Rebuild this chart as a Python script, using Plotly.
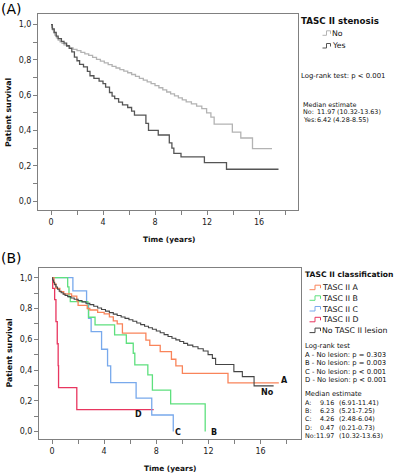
import plotly.graph_objects as go

W, H = 400, 475

# ---------------- DATA ----------------
# Panel A: TASC II stenosis (No / Yes) - Kaplan-Meier step points (time, survival)
no_t = [0, 0.05, 0.12, 0.2, 0.3, 0.42, 0.55, 0.7, 0.85, 1.0, 1.2, 1.45, 1.7, 2.0, 2.3, 2.6,
        2.9, 3.2, 3.5, 3.8, 4.1, 4.4, 4.7, 5.0, 5.3, 5.6, 5.9, 6.2, 6.5, 6.8, 7.1, 7.4,
        7.7, 8.0, 8.3, 8.6, 8.9, 9.2, 9.5, 9.8, 10.1, 10.4, 10.8, 11.2, 11.6, 11.97,
        12.3, 12.55, 13.95, 14.6, 15.5]
no_s = [1.0, 0.985, 0.97, 0.955, 0.94, 0.925, 0.912, 0.902, 0.893, 0.885, 0.877, 0.868,
        0.86, 0.852, 0.843, 0.834, 0.825, 0.814, 0.803, 0.793, 0.783, 0.773, 0.763, 0.754,
        0.745, 0.736, 0.727, 0.717, 0.706, 0.695, 0.685, 0.675, 0.665, 0.654, 0.642, 0.63,
        0.618, 0.607, 0.596, 0.585, 0.573, 0.562, 0.551, 0.538, 0.524, 0.5, 0.476, 0.436,
        0.39, 0.357, 0.297]
no_end = 17.0

yes_t = [0, 0.1, 0.25, 0.4, 0.55, 0.8, 1.0, 1.2, 1.4, 1.6, 1.8, 2.0, 2.2, 2.5, 2.8, 3.0,
         3.3, 3.7, 4.0, 4.2, 4.5, 4.7, 4.9, 5.2, 5.5, 5.9, 6.2, 6.42, 7.3, 7.5, 8.25, 9.1,
         9.3, 9.45, 10.0, 11.8, 13.5]
yes_s = [1.0, 0.975, 0.955, 0.935, 0.92, 0.905, 0.895, 0.88, 0.865, 0.845, 0.815, 0.795,
         0.775, 0.76, 0.735, 0.71, 0.695, 0.68, 0.665, 0.645, 0.615, 0.595, 0.58, 0.56,
         0.545, 0.53, 0.51, 0.487, 0.44, 0.40, 0.374, 0.33, 0.30, 0.27, 0.25, 0.217, 0.18]
yes_end = 17.5

# Panel B: TASC II classification
a_t = [0, 0.15, 0.3, 0.6, 0.9, 1.5, 1.9, 2.0, 2.7, 2.9, 3.5, 4.0, 4.4, 4.7, 5.0, 5.4,
       7.2, 7.5, 8.3, 9.16, 9.5, 10.0, 13.5]
a_s = [1.0, 0.96, 0.93, 0.91, 0.895, 0.88, 0.85, 0.82, 0.80, 0.79, 0.775, 0.765, 0.745,
       0.72, 0.70, 0.64, 0.595, 0.56, 0.52, 0.47, 0.427, 0.379, 0.316]
a_end = 17.4

b_t = [0, 1.2, 1.3, 1.4, 2.75, 2.8, 3.3, 4.8, 5.7, 6.23, 6.35, 7.35, 7.7, 9.1, 11.75]
b_s = [1.0, 0.94, 0.875, 0.844, 0.80, 0.743, 0.693, 0.628, 0.574, 0.509, 0.433, 0.368,
       0.27, 0.18, 0.0]
b_end = 11.75

c_t = [0, 1.6, 2.65, 2.8, 3.0, 3.8, 4.26, 4.5, 6.45, 7.65, 9.3]
c_s = [1.0, 0.915, 0.83, 0.736, 0.65, 0.535, 0.427, 0.318, 0.217, 0.108, 0.0]
c_end = 9.3

d_t = [0, 0.05, 0.2, 0.3, 0.4, 0.47, 0.5, 1.9]
d_s = [1.0, 0.93, 0.857, 0.714, 0.571, 0.429, 0.286, 0.143]
d_end = 7.8

y_ticks = [0.0, 0.2, 0.4, 0.6, 0.8, 1.0]
y_ticktext = ["0,0", "0,2", "0,4", "0,6", "0,8", "1,0"]
x_ticks = [0, 4, 8, 12, 16]
x_ticktext = ["0", "4", "8", "12", "16"]

# ---------------- STYLE ----------------
FONT = "DejaVu Sans"
C_NO_A = "#b3b3b3"
C_YES_A = "#555555"
C_A = "#f9845a"
C_B = "#5ee07e"
C_C = "#78a9ec"
C_D = "#e8365f"
C_NOL = "#444444"

FS = 6.8      # body text
FS_LEG = 7.8  # legend item labels
FS_MED = 6.4  # median rows


def px(x):
    return x / W


def py(y):
    return 1 - y / H


def step(t, s, end):
    xs = list(t) + ([end] if end > t[-1] else [])
    ys = list(s) + ([s[-1]] if end > t[-1] else [])
    return xs, ys


fig = go.Figure()


def add_curve(t, s, end, color, xa, ya, width=1.3):
    xs, ys = step(t, s, end)
    fig.add_trace(go.Scatter(x=xs, y=ys, mode="lines", line=dict(color=color, width=width, shape="hv"),
                             xaxis=xa, yaxis=ya, showlegend=False, hoverinfo="skip"))


add_curve(no_t, no_s, no_end, C_NO_A, "x", "y")
add_curve(yes_t, yes_s, yes_end, C_YES_A, "x", "y")

add_curve(d_t, d_s, d_end, C_D, "x2", "y2")
add_curve(c_t, c_s, c_end, C_C, "x2", "y2")
add_curve(b_t, b_s, b_end, C_B, "x2", "y2")
add_curve(a_t, a_s, a_end, C_A, "x2", "y2")
add_curve(no_t, no_s, no_end, C_NOL, "x2", "y2", width=1.1)

axis_common = dict(showline=True, linecolor="#808080", linewidth=1, mirror=True,
                   showgrid=False, zeroline=False, ticks="outside", ticklen=4,
                   tickcolor="#808080", tickwidth=1,
                   tickfont=dict(family=FONT, size=8, color="#222"))

xdomA = [px(38), px(298)]
ydomA = [py(210), py(14)]
xdomB = [px(39), px(301)]
ydomB = [py(439), py(268)]

fig.update_layout(
    width=W, height=H, margin=dict(l=0, r=0, t=0, b=0),
    paper_bgcolor="white", plot_bgcolor="white",
    xaxis=dict(domain=xdomA, range=[-1.0, 19.0], anchor="y", tickvals=x_ticks, ticktext=x_ticktext,
               minor=dict(dtick=2, tick0=0, ticks="outside", ticklen=4, tickcolor="#808080"), **axis_common),
    yaxis=dict(domain=ydomA, range=[-0.051, 1.06], anchor="x", tickvals=y_ticks, ticktext=y_ticktext,
               minor=dict(dtick=0.1, tick0=0, ticks="outside", ticklen=4, tickcolor="#808080"), **axis_common),
    xaxis2=dict(domain=xdomB, range=[-1.0, 19.1], anchor="y2", tickvals=x_ticks, ticktext=x_ticktext,
                minor=dict(dtick=2, tick0=0, ticks="outside", ticklen=4, tickcolor="#808080"), **axis_common),
    yaxis2=dict(domain=ydomB, range=[-0.048, 1.063], anchor="x2", tickvals=y_ticks, ticktext=y_ticktext,
                minor=dict(dtick=0.1, tick0=0, ticks="outside", ticklen=4, tickcolor="#808080"), **axis_common),
)

annots = []


def txt(x, y, s, size=FS, bold=False, anchor="left", color="#111", angle=0):
    annots.append(dict(x=px(x), y=py(y), xref="paper", yref="paper", text=("<b>%s</b>" % s) if bold else s,
                       showarrow=False, xanchor=anchor, yanchor="middle", textangle=angle,
                       font=dict(family=FONT, size=size, color=color), borderpad=0))


shapes = []


def glyph(x0, x1, y, color):
    xm = (x0 + x1) / 2
    path = "M %f,%f L %f,%f L %f,%f L %f,%f L %f,%f" % (
        px(x0), py(y + 2), px(xm), py(y + 2), px(xm), py(y - 2.5), px(x1), py(y - 2.5), px(x1), py(y + 0.5))
    shapes.append(dict(type="path", path=path, xref="paper", yref="paper",
                       line=dict(color=color, width=1)))


# Panel labels
txt(0, 9, "(A)", size=14, color="#000")
txt(0, 258, "(B)", size=14, color="#000")

# Axis titles
txt(8.5, 112.5, "Patient survival", size=7.8, bold=True, anchor="center", angle=-90)
txt(169, 239, "Time (years)", size=7.4, bold=True, anchor="center")
txt(8.5, 353, "Patient survival", size=7.8, bold=True, anchor="center", angle=-90)
txt(170, 468, "Time (years)", size=7.4, bold=True, anchor="center")

# Panel A legend / stats
txt(300, 20.7, "TASC II stenosis", size=8.7, bold=True)
glyph(322.5, 330.5, 33.3, C_NO_A)
txt(330.5, 33.3, "No", size=FS_LEG)
glyph(322.5, 330.5, 46, C_YES_A)
txt(330.5, 46, "Yes", size=FS_LEG)
txt(300, 76, "Log-rank test: p < 0.001", size=6.9)
txt(301.5, 105.0, "Median estimate", size=FS_MED)
txt(301.5, 112.4, "No:", size=FS_MED)
txt(315.5, 112.4, "11.97", size=FS_MED)
txt(336, 112.4, "(10.32-13.63)", size=FS_MED)
txt(301.5, 119.8, "Yes:", size=FS_MED)
txt(315.5, 119.8, "6.42", size=FS_MED)
txt(332, 119.8, "(4.28-8.55)", size=FS_MED)

# Panel B legend / stats
txt(304, 274, "TASC II classification", size=7.6, bold=True)
leg_items = [("TASC II A", C_A), ("TASC II B", C_B), ("TASC II C", C_C), ("TASC II D", C_D),
             ("No TASC II lesion", C_NOL)]
leg_y = [287.7, 298.3, 309.0, 319.8, 330.6]
for (lab, col), yy in zip(leg_items, leg_y):
    glyph(309.5, 320.5, yy, col)
    txt(321.2, yy, lab, size=FS_LEG)

txt(304, 346, "Log-rank test")
for lab, yy in zip(["A - No lesion: p = 0.303", "B - No lesion: p = 0.003",
                    "C - No lesion: p < 0.001", "D - No lesion: p < 0.001"], [354.7, 363.1, 371.5, 379.9]):
    txt(304, yy, lab)

txt(304, 394, "Median estimate")
med_lab = ["A:", "B:", "C:", "D:", "No:"]
med_val = ["9.16", "6.23", "4.26", "0.47", "11.97"]
med_ci = ["(6.91-11.41)", "(5.21-7.25)", "(2.48-6.04)", "(0.21-0.73)", "(10.32-13.63)"]
med_y = [402.7, 411.0, 419.3, 427.7, 436.0]
for l, v, c, yy in zip(med_lab, med_val, med_ci, med_y):
    txt(304, yy, l, size=FS_MED)
    txt(334.5, yy, v, anchor="right", size=FS_MED)
    txt(337.5, yy, c, size=FS_MED)

# Curve end labels in panel B (data coordinates)
for lab, xx, yy in [("A", 17.85, 0.33), ("No", 16.5, 0.253), ("B", 12.43, -0.006),
                    ("C", 9.68, -0.006), ("D", 6.65, 0.114)]:
    annots.append(dict(x=xx, y=yy, xref="x2", yref="y2", text="<b>%s</b>" % lab, showarrow=False,
                       xanchor="center", yanchor="middle", font=dict(family=FONT, size=8, color="#111")))

fig.update_layout(annotations=annots, shapes=shapes, hovermode=False)

fig.write_html("out.html", config={"displayModeBar": False, "staticPlot": True},
               post_script="document.body.style.margin='0px';document.body.style.padding='0px';")
